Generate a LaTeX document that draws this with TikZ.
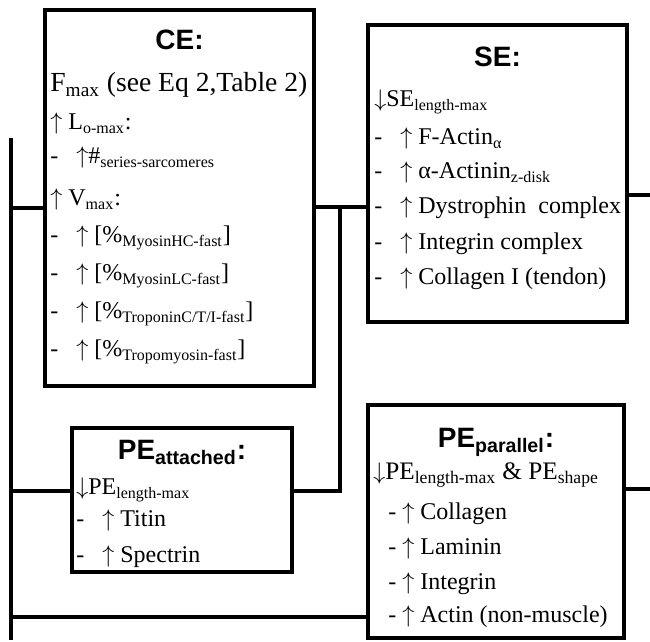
\documentclass[tikz,border=0pt]{standalone}
\usepackage{fontspec}
\setmainfont{Liberation Serif}
\newfontfamily\headfont{Liberation Sans}
\newcommand\lo[1]{\textsubscript{#1}}
\newcommand\dtab{-\hspace{9pt}}
\newcommand\up{$\uparrow$}
\newcommand\dn{$\downarrow$}

\begin{document}
\begin{tikzpicture}[x=0.5pt, y=-0.5pt,
  box/.style={draw, line width=2.3pt, inner sep=0pt, outer sep=0pt},
  wire/.style={line width=2.3pt},
  head/.style={anchor=base, inner sep=0pt,
               font=\headfont\bfseries\fontsize{14}{16}\selectfont},
  txt/.style={anchor=base west, inner sep=0pt, font=\fontsize{12}{14}\selectfont}
]
  \useasboundingbox (0,0) rectangle (650,642);

  % the four elements
  \node[box, minimum width=134.5pt, minimum height=188pt] (ce) at (179.5,198) {};
  \node[box, minimum width=129.5pt, minimum height=148.5pt] (se) at (497.5,173.5) {};
  \node[box, minimum width=110pt, minimum height=72pt] (pea) at (182,500) {};
  \node[box, minimum width=128pt, minimum height=116.5pt] (pep) at (496,521.5) {};

  \node[head] (ceH) at (ce.north |- 0,50) {CE:};
  \node[head] (seH) at (se.north |- 0,67) {SE:};
  \node[head] (peaH) at (pea.north |- 0,460) {PE\lo{attached}:};
  \node[head] (pepH) at (pep.north |- 0,448) {PE\lo{parallel}:};

  \node[txt, font=\fontsize{13.8}{16}\selectfont] (ce0) at (50,92)
    {F\lo{max} (see Eq 2,Table 2)};
  \foreach \y/\t [count=\i] in {130/{\up{} L\lo{o-max}:},
      164/{\dtab\up\#\lo{series-sarcomeres}},
      206/{\up{} V\lo{max}:}, 243/{\dtab\up{} [\%\lo{MyosinHC-fast}]},
      281/{\dtab\up{} [\%\lo{MyosinLC-fast}]}, 319/{\dtab\up{} [\%\lo{TroponinC/T/I-fast}]},
      357/{\dtab\up{} [\%\lo{Tropomyosin-fast}]}}
    \node[txt] (ce\i) at (50,\y) {\t};

  \foreach \y/\t [count=\i] in {107/{\dn SE\lo{length-max}}, 145/{\dtab\up{} F-Actin\lo{α}},
      179/{\dtab\up{} α-Actinin\lo{z-disk}}, 214/{\dtab\up{} Dystrophin\ \ complex},
      250/{\dtab\up{} Integrin complex}, 285/{\dtab\up{} Collagen I (tendon)}}
    \node[txt] (se\i) at (374,\y) {\t};

  \foreach \y/\t [count=\i] in {495/{\dn PE\lo{length-max}}, 527/{\dtab\up{} Titin},
      563/{\dtab\up{} Spectrin}}
    \node[txt] (pea\i) at (76,\y) {\t};

  \node[txt, font=\fontsize{12.6}{14}\selectfont] (pep1) at (373,480)
    {\dn PE\lo{length-max} \& PE\lo{shape}};
  \foreach \y/\t [count=\i from 2] in {520/Collagen, 555/Laminin, 590/Integrin,
      623/{Actin (non-muscle)}}
    \node[txt] (pep\i) at (388,\y) {- \up{} \t};

  % wiring
  \coordinate (top) at (11,138);
  \coordinate (bot) at (11,640);
  \coordinate (s1) at (11,208);
  \coordinate (s2) at (11,491);
  \coordinate (s3) at (11,617);
  \coordinate (j1) at (340,207);
  \coordinate (j2) at (340,491);
  \coordinate (o1) at (650,195);
  \coordinate (o2) at (650,489);

  \draw[wire] (top) -- (bot);
  \draw[wire] (s1) -- (s1 -| ce.west);
  \draw[wire] (s2) -- (s2 -| pea.west);
  \draw[wire] (s3) -- (s3 -| pep.west);
  \draw[wire] (j1 -| ce.east) -- (j1 -| se.west);
  \draw[wire] (j1) -- (j2) -- (j2 -| pea.east);
  \draw[wire] (o1 -| se.east) -- (o1);
  \draw[wire] (o2 -| pep.east) -- (o2);
\end{tikzpicture}
\end{document}
